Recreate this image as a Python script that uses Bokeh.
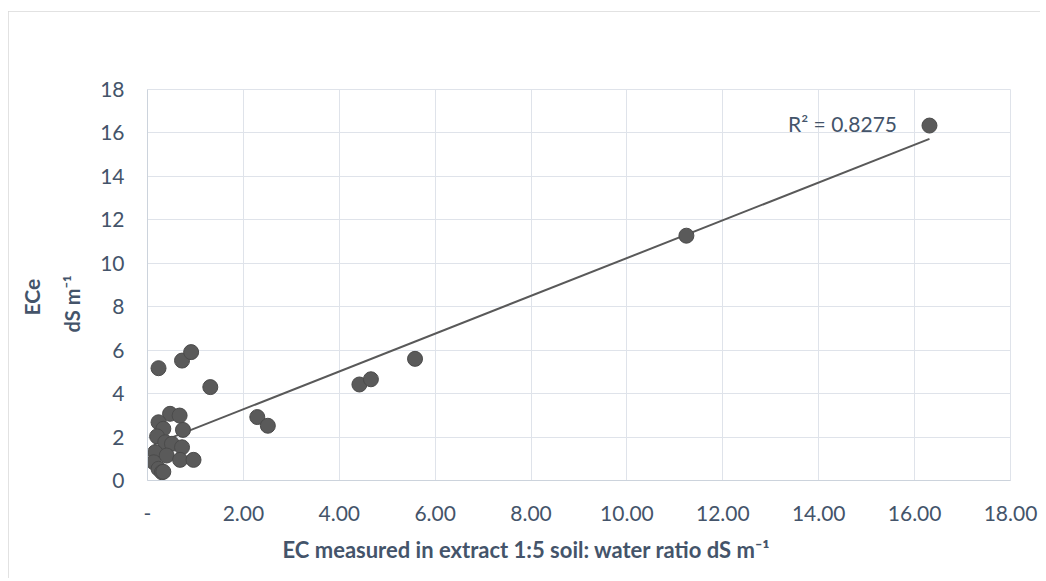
from bokeh.plotting import figure
from bokeh.models import FixedTicker, Label, Title, Range1d
from bokeh.embed import file_html
from bokeh.resources import INLINE

# EC measured in 1:5 soil:water extract (dS m-1)
ec_1to5 = [0.47, 0.67, 0.23, 0.33, 0.74, 0.20, 0.37, 0.51, 0.72, 0.16, 0.40, 0.68, 0.96,
           0.13, 0.23, 0.30, 0.33,
           0.23, 0.72, 0.91, 1.31,
           2.29, 2.51, 4.42, 4.66, 5.58, 11.24, 16.31]
# ECe (dS m-1)
ece = [3.07, 2.99, 2.68, 2.38, 2.33, 2.03, 1.76, 1.69, 1.53, 1.30, 1.15, 0.95, 0.95,
       0.84, 0.54, 0.38, 0.40,
       5.17, 5.52, 5.91, 4.30,
       2.92, 2.52, 4.42, 4.66, 5.60, 11.27, 16.34]

# linear trendline as shown in the chart
trend_slope = 0.87
trend_intercept = 1.54

x_ticks = [0, 2, 4, 6, 8, 10, 12, 14, 16, 18]
x_tick_labels = ["-", "2.00", "4.00", "6.00", "8.00", "10.00", "12.00", "14.00", "16.00", "18.00"]
y_ticks = [0, 2, 4, 6, 8, 10, 12, 14, 16, 18]
y_tick_labels = ["0", "2", "4", "6", "8", "10", "12", "14", "16", "18"]

r2_text = "R\u00b2 = 0.8275"
x_title = "EC measured in extract 1:5 soil: water ratio dS m\u207b\u00b9"
y_title_1 = "ECe"
y_title_2 = "dS m\u207b\u00b9"

FONT = "Lato"
TXT = "#44546A"
GRID = "#dfe3ea"
AXIS = "#ccd3dc"

p = figure(frame_width=863, frame_height=391,
           min_border_left=139, min_border_right=30,
           min_border_top=78, min_border_bottom=98,
           x_range=Range1d(0, 18), y_range=Range1d(0, 18),
           output_backend="svg", toolbar_location=None,
           margin=(11, 0, 0, 8),
           styles={"outline": "1px solid #d9d9d9", "outline-offset": "-1px"})

p.outline_line_color = GRID
p.background_fill_color = "white"
p.border_fill_color = "white"

for ax in (p.xaxis, p.yaxis):
    ax.axis_line_color = AXIS
    ax.major_tick_line_color = None
    ax.minor_tick_line_color = None
    ax.major_label_text_font = FONT
    ax.major_label_text_font_size = "21px"
    ax.major_label_text_color = TXT

p.xaxis.ticker = FixedTicker(ticks=x_ticks)
p.yaxis.ticker = FixedTicker(ticks=y_ticks)
p.xaxis.major_label_overrides = {t: l for t, l in zip(x_ticks, x_tick_labels)}
p.yaxis.major_label_overrides = {t: l for t, l in zip(y_ticks, y_tick_labels)}
p.xaxis.major_label_standoff = 19
p.yaxis.major_label_standoff = 17

p.xgrid.grid_line_color = GRID
p.ygrid.grid_line_color = GRID
p.xgrid.ticker = FixedTicker(ticks=x_ticks)
p.ygrid.ticker = FixedTicker(ticks=y_ticks)

xs = [min(ec_1to5), max(ec_1to5)]
ys = [trend_slope * v + trend_intercept for v in xs]
p.line(xs, ys, line_color="#595959", line_width=2)

p.scatter(ec_1to5, ece, size=15, fill_color="#5a5a5a", line_color="#4b4b4b", line_width=1)

p.add_layout(Label(x=13.36, y=16.44, text=r2_text, text_font=FONT, text_font_size="21px",
                   text_color=TXT, text_baseline="alphabetic"))

xt = Title(text=x_title, align="left", offset=135, text_font=FONT, text_font_size="22px",
           text_font_style="bold", text_color=TXT, standoff=20)
p.add_layout(xt, "below")

yt2 = Title(text=y_title_2, align="left", offset=148, text_font=FONT, text_font_size="20px",
            text_font_style="bold", text_color=TXT, standoff=28)
yt1 = Title(text=y_title_1, align="left", offset=165, text_font=FONT, text_font_size="21px",
            text_font_style="bold", text_color=TXT, standoff=0)
p.add_layout(yt2, "left")
p.add_layout(yt1, "left")

open("out.html", "w").write(file_html(p, INLINE))
